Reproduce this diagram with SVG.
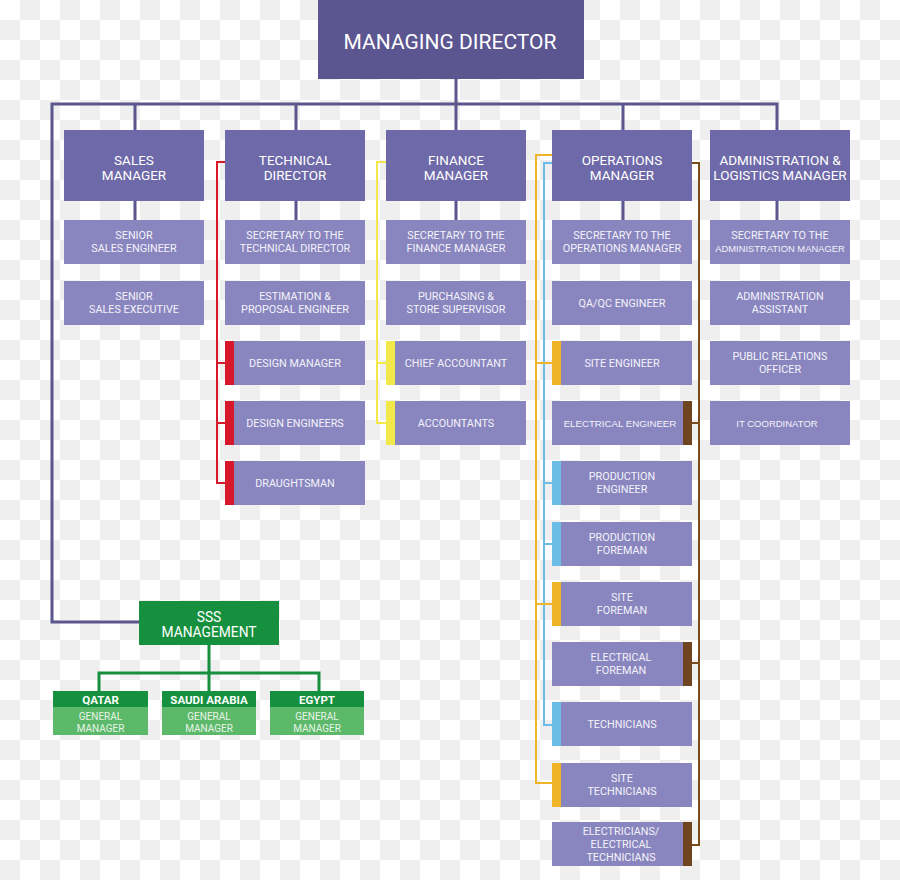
<svg xmlns="http://www.w3.org/2000/svg" width="900" height="880" viewBox="0 0 900 880">
<defs>
<pattern id="chk" x="0" y="0" width="40" height="40" patternUnits="userSpaceOnUse">
<rect width="40" height="40" fill="#ffffff"/>
<rect x="20" y="0" width="20" height="20" fill="#efefef"/>
<rect x="0" y="20" width="20" height="20" fill="#efefef"/>
</pattern>
</defs>
<style>
.md{fill:#5b5590}
.l1{fill:#6e69a8}
.l2{fill:#8985bf}
.t{font-family:Roboto,"Liberation Sans",sans-serif;text-anchor:middle;fill:#ffffff}
.tmd{font-size:21px}
.t1{font-size:13.5px}
.t2{font-size:10.8px;fill:#f3f3f9}
.ta{font-family:"Liberation Sans",Arial,sans-serif;text-anchor:middle;fill:#f3f3f9}
.pl{fill:none;stroke:#5b5590;stroke-width:3}
.cr{fill:none;stroke:#d7182a;stroke-width:2}
.cy{fill:none;stroke:#f3e84a;stroke-width:2}
.co{fill:none;stroke:#f0b429;stroke-width:2}
.cb{fill:none;stroke:#6bbde6;stroke-width:2}
.cw{fill:none;stroke:#7b4a1d;stroke-width:2}
.cg{fill:none;stroke:#16903e;stroke-width:3}
.bred{fill:#d7182a}
.byel{fill:#f3e84a}
.bor{fill:#f0b429}
.bbl{fill:#6bbde6}
.bbr{fill:#6e4520}
.g1{fill:#16903e}
.g2{fill:#5cb96a}
.tg{font-size:13.8px}
.th{font-size:11.5px;font-weight:bold}
.tb{font-size:10px;fill:#e8f4e8}
</style>
<rect width="900" height="880" fill="url(#chk)"/>

<g id="connectors">
<path class="pl" d="M456,79 V130"/>
<path class="pl" d="M139,622 H52 V104 H777 V130"/>
<path class="pl" d="M135,104 V130 M296,104 V130 M623,104 V130"/>
<path class="pl" d="M135,201 V220 M296,201 V220 M456,201 V220 M623,201 V220 M777,201 V220"/>
<path class="cr" d="M225,162 H217 V483 H225 M217,363 H225 M217,423 H225"/>
<path class="cy" d="M386,162 H377 V423 H386 M377,363 H386"/>
<path class="cb" d="M552,163 H544 V725 H552 M544,483 H552 M544,544 H552"/>
<path class="co" d="M552,155 H536 V783 H552 M536,363 H552 M536,604 H552"/>
<path class="cw" d="M692,163 H699 V845 H692 M699,423 H692 M699,663 H692"/>
<path class="cg" d="M209,645 V673 M99,691 V673 H319 V691 M209,673 V691"/>
</g>

<g id="managing-director">
<rect class="md" x="318" y="0" width="266" height="79"/>
<text class="t tmd" x="450" y="49">MANAGING DIRECTOR</text>
</g>

<g id="sales-manager">
<rect class="l1" x="64" y="130" width="140" height="71"/>
<text class="t t1" x="134" y="165">SALES</text>
<text class="t t1" x="134" y="179.5">MANAGER</text>
</g>
<g id="technical-director">
<rect class="l1" x="225" y="130" width="140" height="71"/>
<text class="t t1" x="295" y="165">TECHNICAL</text>
<text class="t t1" x="295" y="179.5">DIRECTOR</text>
</g>
<g id="finance-manager">
<rect class="l1" x="386" y="130" width="140" height="71"/>
<text class="t t1" x="456" y="165">FINANCE</text>
<text class="t t1" x="456" y="179.5">MANAGER</text>
</g>
<g id="operations-manager">
<rect class="l1" x="552" y="130" width="140" height="71"/>
<text class="t t1" x="622" y="165">OPERATIONS</text>
<text class="t t1" x="622" y="179.5">MANAGER</text>
</g>
<g id="admin-manager">
<rect class="l1" x="710" y="130" width="140" height="71"/>
<text class="t t1" x="780" y="165">ADMINISTRATION &amp;</text>
<text class="t t1" x="780" y="179.5">LOGISTICS MANAGER</text>
</g>

<!-- Sales column -->
<g id="senior-sales-engineer">
<rect class="l2" x="64" y="220" width="140" height="44"/>
<text class="t t2" x="134" y="238.7">SENIOR</text>
<text class="t t2" x="134" y="252.3">SALES ENGINEER</text>
</g>
<g id="senior-sales-executive">
<rect class="l2" x="64" y="281" width="140" height="44"/>
<text class="t t2" x="134" y="299.7">SENIOR</text>
<text class="t t2" x="134" y="313.3">SALES EXECUTIVE</text>
</g>

<!-- Technical column -->
<g id="secretary-technical">
<rect class="l2" x="225" y="220" width="140" height="44"/>
<text class="t t2" x="295" y="238.7">SECRETARY TO THE</text>
<text class="t t2" x="295" y="252.3">TECHNICAL DIRECTOR</text>
</g>
<g id="estimation-engineer">
<rect class="l2" x="225" y="281" width="140" height="44"/>
<text class="t t2" x="295" y="299.7">ESTIMATION &amp;</text>
<text class="t t2" x="295" y="313.3">PROPOSAL ENGINEER</text>
</g>
<g id="design-manager">
<rect class="l2" x="225" y="341" width="140" height="44"/>
<rect class="bred" x="225" y="341" width="9" height="44"/>
<text class="t t2" x="295" y="367.3">DESIGN MANAGER</text>
</g>
<g id="design-engineers">
<rect class="l2" x="225" y="401" width="140" height="44"/>
<rect class="bred" x="225" y="401" width="9" height="44"/>
<text class="t t2" x="295" y="427.3">DESIGN ENGINEERS</text>
</g>
<g id="draughtsman">
<rect class="l2" x="225" y="461" width="140" height="44"/>
<rect class="bred" x="225" y="461" width="9" height="44"/>
<text class="t t2" x="295" y="487.3">DRAUGHTSMAN</text>
</g>

<!-- Finance column -->
<g id="secretary-finance">
<rect class="l2" x="386" y="220" width="140" height="44"/>
<text class="t t2" x="456" y="238.7">SECRETARY TO THE</text>
<text class="t t2" x="456" y="252.3">FINANCE MANAGER</text>
</g>
<g id="purchasing-supervisor">
<rect class="l2" x="386" y="281" width="140" height="44"/>
<text class="t t2" x="456" y="299.7">PURCHASING &amp;</text>
<text class="t t2" x="456" y="313.3">STORE SUPERVISOR</text>
</g>
<g id="chief-accountant">
<rect class="l2" x="386" y="341" width="140" height="44"/>
<rect class="byel" x="386" y="341" width="9" height="44"/>
<text class="t t2" x="456" y="367.3">CHIEF ACCOUNTANT</text>
</g>
<g id="accountants">
<rect class="l2" x="386" y="401" width="140" height="44"/>
<rect class="byel" x="386" y="401" width="9" height="44"/>
<text class="t t2" x="456" y="427.3">ACCOUNTANTS</text>
</g>

<!-- Operations column -->
<g id="secretary-operations">
<rect class="l2" x="552" y="220" width="140" height="44"/>
<text class="t t2" x="622" y="238.7">SECRETARY TO THE</text>
<text class="t t2" x="622" y="252.3">OPERATIONS MANAGER</text>
</g>
<g id="qaqc-engineer">
<rect class="l2" x="552" y="281" width="140" height="44"/>
<text class="t t2" x="622" y="307.3">QA/QC ENGINEER</text>
</g>
<g id="site-engineer">
<rect class="l2" x="552" y="341" width="140" height="44"/>
<rect class="bor" x="552" y="341" width="9" height="44"/>
<text class="t t2" x="622" y="367.3">SITE ENGINEER</text>
</g>
<g id="electrical-engineer">
<rect class="l2" x="552" y="401" width="140" height="44"/>
<rect class="bbr" x="683" y="401" width="9" height="44"/>
<text class="ta" font-size="9.7" x="620" y="427">ELECTRICAL ENGINEER</text>
</g>
<g id="production-engineer">
<rect class="l2" x="552" y="461" width="140" height="44"/>
<rect class="bbl" x="552" y="461" width="9" height="44"/>
<text class="t t2" x="622" y="479.7">PRODUCTION</text>
<text class="t t2" x="622" y="493.3">ENGINEER</text>
</g>
<g id="production-foreman">
<rect class="l2" x="552" y="522" width="140" height="44"/>
<rect class="bbl" x="552" y="522" width="9" height="44"/>
<text class="t t2" x="622" y="540.7">PRODUCTION</text>
<text class="t t2" x="622" y="554.3">FOREMAN</text>
</g>
<g id="site-foreman">
<rect class="l2" x="552" y="582" width="140" height="44"/>
<rect class="bor" x="552" y="582" width="9" height="44"/>
<text class="t t2" x="622" y="600.7">SITE</text>
<text class="t t2" x="622" y="614.3">FOREMAN</text>
</g>
<g id="electrical-foreman">
<rect class="l2" x="552" y="642" width="140" height="44"/>
<rect class="bbr" x="683" y="642" width="9" height="44"/>
<text class="t t2" x="621" y="660.7">ELECTRICAL</text>
<text class="t t2" x="621" y="674.3">FOREMAN</text>
</g>
<g id="technicians">
<rect class="l2" x="552" y="702" width="140" height="44"/>
<rect class="bbl" x="552" y="702" width="9" height="44"/>
<text class="t t2" x="622" y="728.3">TECHNICIANS</text>
</g>
<g id="site-technicians">
<rect class="l2" x="552" y="763" width="140" height="44"/>
<rect class="bor" x="552" y="763" width="9" height="44"/>
<text class="t t2" x="622" y="781.7">SITE</text>
<text class="t t2" x="622" y="795.3">TECHNICIANS</text>
</g>
<g id="electricians">
<rect class="l2" x="552" y="822" width="140" height="44"/>
<rect class="bbr" x="683" y="822" width="9" height="44"/>
<text class="t t2" x="621" y="834.7">ELECTRICIANS/</text>
<text class="t t2" x="621" y="848">ELECTRICAL</text>
<text class="t t2" x="621" y="861.3">TECHNICIANS</text>
</g>

<!-- Admin column -->
<g id="secretary-admin">
<rect class="l2" x="710" y="220" width="140" height="44"/>
<text class="t t2" x="780" y="238.7">SECRETARY TO THE</text>
<text class="ta" font-size="9.4" x="780" y="252">ADMINISTRATION MANAGER</text>
</g>
<g id="admin-assistant">
<rect class="l2" x="710" y="281" width="140" height="44"/>
<text class="t t2" x="780" y="299.7">ADMINISTRATION</text>
<text class="t t2" x="780" y="313.3">ASSISTANT</text>
</g>
<g id="pr-officer">
<rect class="l2" x="710" y="341" width="140" height="44"/>
<text class="t t2" x="780" y="359.7">PUBLIC RELATIONS</text>
<text class="t t2" x="780" y="373.3">OFFICER</text>
</g>
<g id="it-coordinator">
<rect class="l2" x="710" y="401" width="140" height="44"/>
<text class="ta" font-size="9.5" x="777" y="427">IT COORDINATOR</text>
</g>

<!-- Green section -->
<g id="sss-management">
<rect class="g1" x="139" y="601" width="140" height="44"/>
<text class="t tg" x="209" y="622">SSS</text>
<text class="t tg" x="209" y="637">MANAGEMENT</text>
</g>
<g id="qatar-gm">
<rect class="g1" x="53" y="691" width="95" height="16"/>
<rect class="g2" x="53" y="707" width="95" height="28"/>
<text class="t th" x="100.5" y="704.3">QATAR</text>
<text class="t tb" x="100.5" y="719.5">GENERAL</text>
<text class="t tb" x="100.5" y="731.5">MANAGER</text>
</g>
<g id="saudi-gm">
<rect class="g1" x="162" y="691" width="94" height="16"/>
<rect class="g2" x="162" y="707" width="94" height="28"/>
<text class="t th" x="209" y="704.3">SAUDI ARABIA</text>
<text class="t tb" x="209" y="719.5">GENERAL</text>
<text class="t tb" x="209" y="731.5">MANAGER</text>
</g>
<g id="egypt-gm">
<rect class="g1" x="270" y="691" width="94" height="16"/>
<rect class="g2" x="270" y="707" width="94" height="28"/>
<text class="t th" x="317" y="704.3">EGYPT</text>
<text class="t tb" x="317" y="719.5">GENERAL</text>
<text class="t tb" x="317" y="731.5">MANAGER</text>
</g>
</svg>
